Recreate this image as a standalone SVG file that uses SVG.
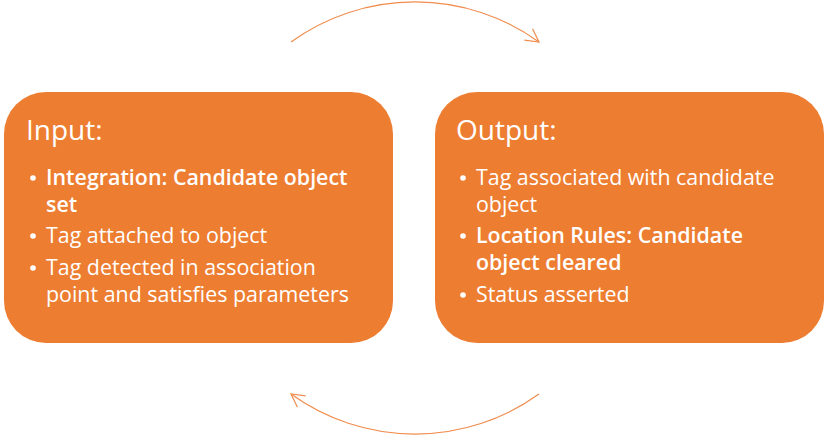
<svg xmlns="http://www.w3.org/2000/svg" width="829" height="436" viewBox="0 0 829 436">
<style>
.box{fill:#ED7D31;}
.t{font-family:"Open Sans",Lato,sans-serif;fill:#fff;}
.h{font-size:28px;}
.b{font-size:21.4px;}
.bold{font-weight:600;}
.arc{fill:none;stroke:#F08C4E;stroke-width:1.2;}
</style>
<defs>
<marker id="ah" viewBox="0 0 16 16" refX="15" refY="8" markerWidth="16" markerHeight="16" markerUnits="userSpaceOnUse" orient="auto">
<path d="M2,1 L15,8 L2,15" fill="none" stroke="#F08C4E" stroke-width="1.2"/>
</marker>
</defs>
<rect width="829" height="436" fill="#fff"/>
<g id="input">
<rect class="box" x="4" y="92" width="389" height="251" rx="42"/>
<text class="t h" x="26" y="140">Input:</text>
<circle cx="33" cy="178" r="2.8" fill="#fff"/>
<circle cx="33" cy="236" r="2.8" fill="#fff"/>
<circle cx="33" cy="268" r="2.8" fill="#fff"/>
<text class="t b bold" x="46" y="185">Integration: Candidate object</text>
<text class="t b bold" x="46" y="212">set</text>
<text class="t b" x="46" y="243">Tag attached to object</text>
<text class="t b" x="46" y="275">Tag detected in association</text>
<text class="t b" x="46" y="302">point and satisfies parameters</text>
</g>
<g id="output">
<rect class="box" x="435" y="92" width="389" height="251" rx="42"/>
<text class="t h" x="456" y="140">Output:</text>
<circle cx="463" cy="178" r="2.8" fill="#fff"/>
<circle cx="463" cy="236" r="2.8" fill="#fff"/>
<circle cx="463" cy="295" r="2.8" fill="#fff"/>
<text class="t b" x="476" y="185">Tag associated with candidate</text>
<text class="t b" x="476" y="212">object</text>
<text class="t b bold" x="476" y="243">Location Rules: Candidate</text>
<text class="t b bold" x="476" y="270">object cleared</text>
<text class="t b" x="476" y="302">Status asserted</text>
</g>
<g id="connectors">
<path class="arc" d="M291,42 A212,212 0 0 1 539,42" marker-end="url(#ah)"/>
<path class="arc" d="M539,394 A212,212 0 0 1 291,394" marker-end="url(#ah)"/>
</g>
</svg>
